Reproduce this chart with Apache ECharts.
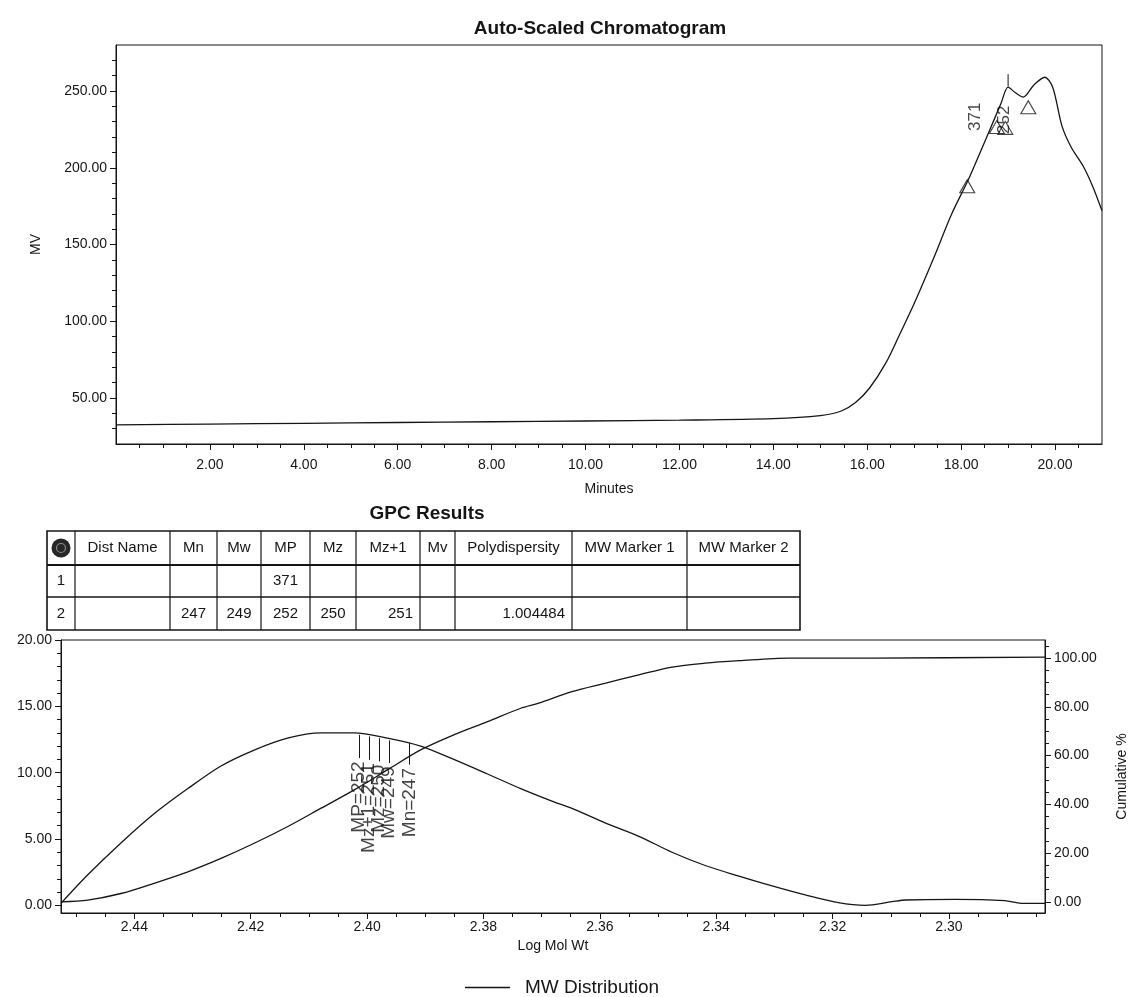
<!DOCTYPE html>
<html><head><meta charset="utf-8">
<script src="https://cdn.jsdelivr.net/npm/echarts@6/dist/echarts.min.js"></script>
<style>html,body{margin:0;padding:0;background:#fff}#c{width:1137px;height:997px}</style>
</head><body><div id="c"></div>
<script>
// ---------------- DATA ----------------
// Auto-scaled chromatogram (retention time in minutes, detector mV)
const chromMinutes = [0, 2, 4, 6, 8, 10, 12, 14, 15, 15.45, 15.75, 16.05, 16.4, 16.7, 17.0, 17.4, 17.8, 18.15, 18.35, 18.6, 18.85, 19.0, 19.15, 19.32, 19.55, 19.78, 19.95, 20.15, 20.35, 20.6, 20.8, 21.0];
const chromMV      = [32.5, 33, 33.5, 34, 34.5, 35, 35.5, 36.5, 38.5, 41.5, 47, 56.5, 73, 92, 111.5, 140, 170, 192, 206, 224, 242, 252.5, 249, 246, 254, 259, 252.5, 227, 213, 201, 188, 172];
// peak / slice markers (open triangles) on the chromatogram
const markMinutes = [18.13, 18.76, 18.94, 19.43];
const markMV      = [188, 226.5, 226, 239.5];
// peak labels (MP values) drawn vertically
const peakLabelText    = ['371', '252'];
const peakLabelMinutes = [18.30, 18.91];
const peakLabelMV      = [224, 222];
// peak apex tick
const apexTickMinutes = [19.0, 19.0];
const apexTickMV      = [253, 261];

// Axis tick labels
const topXTicks = [2, 4, 6, 8, 10, 12, 14, 16, 18, 20];
const topYTicks = [50, 100, 150, 200, 250];
const logMTicks = [2.30, 2.32, 2.34, 2.36, 2.38, 2.40, 2.42, 2.44];
const distTicks = [0, 5, 10, 15, 20];
const cumTicks  = [0, 20, 40, 60, 80, 100];

// GPC results table
const tableHeaders = ['', 'Dist Name', 'Mn', 'Mw', 'MP', 'Mz', 'Mz+1', 'Mv', 'Polydispersity', 'MW Marker 1', 'MW Marker 2'];
const gpcRow1 = ['1', '', '', '', '371', '', '', '', '', '', ''];
const gpcRow2 = ['2', '', '247', '249', '252', '250', '251', '', '1.004484', '', ''];

// MW distribution (log MW vs dw/dlogM)
const distLogMW = [2.4526, 2.4480, 2.4423, 2.4366, 2.4308, 2.4251, 2.4194, 2.4137, 2.4079, 2.4022, 2.3965, 2.3908, 2.3851, 2.3793, 2.3736, 2.3679, 2.3648, 2.3590, 2.3533, 2.3476, 2.3419, 2.3361, 2.3304, 2.3247, 2.3190, 2.3144, 2.3098, 2.3075, 2.2989, 2.2904, 2.2876, 2.2835];
const distValue = [0.15, 2.3, 4.7, 6.9, 8.8, 10.5, 11.7, 12.6, 13.0, 13.0, 12.6, 12.0, 11.0, 9.9, 8.8, 7.8, 7.3, 6.2, 5.2, 4.0, 3.0, 2.2, 1.46, 0.78, 0.2, 0.0, 0.27, 0.4, 0.45, 0.35, 0.15, 0.15];
// Cumulative %
const cumLogMW = [2.4526, 2.4480, 2.4423, 2.4366, 2.4308, 2.4251, 2.4194, 2.4137, 2.4079, 2.4022, 2.3965, 2.3908, 2.3851, 2.3793, 2.3736, 2.3705, 2.3648, 2.3590, 2.3533, 2.3476, 2.3419, 2.3361, 2.3276, 2.3133, 2.2835];
const cumValue = [0, 0.7, 3.4, 7.6, 12.3, 17.8, 24.0, 30.8, 38.4, 45.9, 54.1, 62.3, 68.5, 73.9, 79.4, 81.5, 86.2, 89.7, 93.1, 96.3, 97.9, 98.9, 100, 100, 100.4];
// MW markers
const markerNames = ['MP', 'Mz+1', 'Mz', 'Mw', 'Mn'];
const markerMW    = [252, 251, 250, 249, 247];
const markerTop    = [12.85, 12.73, 12.6, 12.43, 12.24];   // where the hatch meets the curve
const markerBottom = [11.1, 10.97, 10.85, 10.72, 10.6];

// ---------------- STYLE / LAYOUT ----------------
const INK = '#151515';
const FONT = '"Liberation Sans", Arial, sans-serif';
const fmt2 = v => Number(v).toFixed(2);
function minorVals(a, b, step, skip) {
  const out = [];
  for (let i = 0; ; i++) {
    const v = +(a + i * step).toFixed(6);
    if (v > b + 1e-9) break;
    if (skip && Math.abs(v / skip - Math.round(v / skip)) < 1e-6) continue;
    out.push(v);
  }
  return out;
}
const labelStyle = { color: INK, fontSize: 14, fontFamily: FONT };
const nameStyle = { color: INK, fontSize: 14, fontFamily: FONT };
function mainAxis(extra) {
  return Object.assign({
    type: 'value', splitLine: { show: false },
    axisLine: { show: true, onZero: false, lineStyle: { color: INK, width: 1 } },
    nameTextStyle: nameStyle
  }, extra);
}
function minorAxis(extra, values, len) {
  return Object.assign({
    type: 'value', splitLine: { show: false },
    axisLine: { show: false, onZero: false },
    axisLabel: { show: false },
    axisTick: { show: true, length: len || 3, customValues: values, lineStyle: { color: INK } }
  }, extra);
}
function majorTick(vals) { return { show: true, length: 6, customValues: vals, lineStyle: { color: INK } }; }
function majorLabel(vals, margin) { return Object.assign({ formatter: fmt2, customValues: vals, margin: margin }, labelStyle); }

// ---------------- TABLE + TITLES (graphic) ----------------
const colEdges = [47, 75, 170, 217, 261, 310, 356, 420, 455, 572, 687, 800];
const rowEdges = [531, 565, 597, 630];
const graphics = [];
const txt = (x, y, t, font, align) => ({ type: 'text', x: x, y: y, silent: true,
  style: { text: t, font: font, fill: INK, textAlign: align || 'center', textVerticalAlign: 'middle', verticalAlign: 'middle' } });
graphics.push(txt(600, 29, 'Auto-Scaled Chromatogram', 'bold 19px ' + FONT));
graphics.push(txt(427, 514, 'GPC Results', 'bold 19px ' + FONT));
graphics.push({ type: 'rect', silent: true, shape: { x: colEdges[0], y: rowEdges[0], width: colEdges[colEdges.length - 1] - colEdges[0], height: rowEdges[rowEdges.length - 1] - rowEdges[0] }, style: { fill: 'none', stroke: INK, lineWidth: 1.6 } });
colEdges.slice(1, -1).forEach(x => graphics.push({ type: 'line', silent: true, shape: { x1: x, y1: rowEdges[0], x2: x, y2: rowEdges[3] }, style: { stroke: INK, lineWidth: 1.2 } }));
rowEdges.slice(1, -1).forEach((y, i) => graphics.push({ type: 'line', silent: true, shape: { x1: colEdges[0], y1: y, x2: colEdges[colEdges.length - 1], y2: y }, style: { stroke: INK, lineWidth: i === 0 ? 2.2 : 1.6 } }));
graphics.push({ type: 'circle', silent: true, shape: { cx: 61, cy: 548, r: 9.5 }, style: { fill: '#262626' } });
graphics.push({ type: 'circle', silent: true, shape: { cx: 61, cy: 548, r: 4.5 }, style: { fill: 'none', stroke: '#8a8a8a', lineWidth: 1.2 } });
function cellText(rowIdx, values) {
  values.forEach((t, c) => {
    if (!t) return;
    const x0 = colEdges[c], x1 = colEdges[c + 1], w = x1 - x0;
    const right = rowIdx > 0 && c > 1 && w > 60;
    graphics.push(txt(right ? x1 - 7 : (x0 + x1) / 2, (rowEdges[rowIdx] + rowEdges[rowIdx + 1]) / 2, t, '15px ' + FONT, right ? 'right' : 'center'));
  });
}
cellText(0, tableHeaders);
cellText(1, gpcRow1);
cellText(2, gpcRow2);

// ---------------- CHART ----------------
const chart = echarts.init(document.getElementById('c'));
const option = {
  animation: false,
  backgroundColor: '#fff',
  grid: [
    { left: 116, top: 45, width: 986, height: 399, show: true, borderColor: INK, borderWidth: 1, backgroundColor: 'transparent' },
    { left: 61, top: 640, width: 986, height: 273, show: true, borderColor: INK, borderWidth: 1, backgroundColor: 'transparent' }
  ],
  legend: {
    data: [{ name: 'MW Distribution', icon: 'rect' }],
    left: 460, top: 973, itemWidth: 45, itemHeight: 1.5,
    textStyle: { color: INK, fontSize: 19, fontFamily: FONT, padding: [0, 0, 0, 10] }
  },
  xAxis: [
    mainAxis({ gridIndex: 0, position: 'bottom', min: 0, max: 21, axisTick: majorTick(topXTicks), axisLabel: majorLabel(topXTicks, 14),
      name: 'Minutes', nameLocation: 'middle', nameGap: 38 }),
    minorAxis({ gridIndex: 0, position: 'bottom', min: 0, max: 21 }, minorVals(0.5, 20.5, 0.5, 2), 4),
    mainAxis({ gridIndex: 1, position: 'bottom', inverse: true, min: 2.2835, max: 2.4526, axisTick: majorTick(logMTicks), axisLabel: majorLabel(logMTicks, 7),
      name: 'Log Mol Wt', nameLocation: 'middle', nameGap: 26 }),
    minorAxis({ gridIndex: 1, position: 'bottom', inverse: true, min: 2.2835, max: 2.4526 }, minorVals(2.285, 2.450, 0.005, 0.02), 4)
  ],
  yAxis: [
    mainAxis({ gridIndex: 0, position: 'left', min: 20, max: 280, axisTick: majorTick(topYTicks), axisLabel: majorLabel(topYTicks, 9),
      name: 'MV', nameLocation: 'middle', nameGap: 73 }),
    minorAxis({ gridIndex: 0, position: 'left', min: 20, max: 280 }, minorVals(30, 270, 10, 50), 4),
    mainAxis({ gridIndex: 1, position: 'left', min: -0.58, max: 20, axisTick: majorTick(distTicks), axisLabel: majorLabel(distTicks, 9) }),
    minorAxis({ gridIndex: 1, position: 'left', min: -0.58, max: 20 }, minorVals(1, 19, 1, 5), 4),
    mainAxis({ gridIndex: 1, position: 'right', min: -4.6, max: 107.4, axisTick: majorTick(cumTicks), axisLabel: majorLabel(cumTicks, 9),
      name: 'Cumulative %', nameLocation: 'middle', nameGap: 70 }),
    minorAxis({ gridIndex: 1, position: 'right', min: -4.6, max: 107.4 }, minorVals(5, 105, 5, 20), 4)
  ],
  series: [
    { name: 'Chromatogram', type: 'line', xAxisIndex: 0, yAxisIndex: 0, symbol: 'none', smooth: 0.3, silent: true,
      data: chromMinutes.map((m, i) => [m, chromMV[i]]), lineStyle: { color: INK, width: 1.3 } },
    { name: 'Markers', type: 'scatter', xAxisIndex: 0, yAxisIndex: 0, symbol: 'triangle', symbolSize: [15, 13], silent: true,
      data: markMinutes.map((m, i) => [m, markMV[i]]), itemStyle: { color: 'rgba(255,255,255,0)', borderColor: INK, borderWidth: 1.1 } },
    { name: 'Apex', type: 'line', xAxisIndex: 0, yAxisIndex: 0, symbol: 'none', silent: true,
      data: apexTickMinutes.map((m, i) => [m, apexTickMV[i]]), lineStyle: { color: INK, width: 1 } },
    { name: 'PeakLabels', type: 'scatter', xAxisIndex: 0, yAxisIndex: 0, symbolSize: 0, silent: true,
      data: peakLabelMinutes.map((m, i) => ({ value: [m, peakLabelMV[i]], name: peakLabelText[i] })),
      label: { show: true, position: 'inside', rotate: 90, align: 'left', verticalAlign: 'middle', formatter: p => p.name,
        color: INK, fontSize: 17, fontFamily: FONT } },
    { name: 'MW Distribution', type: 'line', xAxisIndex: 2, yAxisIndex: 2, symbol: 'none', smooth: 0.3, silent: true,
      data: distLogMW.map((m, i) => [m, distValue[i]]), lineStyle: { color: INK, width: 1.3 }, itemStyle: { color: INK },
      markLine: { silent: true, symbol: ['none', 'none'], label: { show: false }, lineStyle: { color: INK, width: 1, type: 'solid' },
        data: markerMW.map((mw, i) => [{ coord: [Math.log10(mw), markerTop[i]] }, { coord: [Math.log10(mw), markerBottom[i]] }]) } },
    { name: 'Cumulative', type: 'line', xAxisIndex: 2, yAxisIndex: 4, symbol: 'none', smooth: 0.3, silent: true,
      data: cumLogMW.map((m, i) => [m, cumValue[i]]), lineStyle: { color: INK, width: 1.3 } },
    { name: 'MarkerLabels', type: 'scatter', xAxisIndex: 2, yAxisIndex: 2, symbolSize: 0, silent: true,
      data: markerMW.map((mw, i) => ({ value: [Math.log10(mw), markerBottom[i] - 0.25], name: markerNames[i] + '=' + mw })),
      label: { show: true, position: 'inside', rotate: 90, align: 'right', verticalAlign: 'middle', formatter: p => p.name,
        color: INK, fontSize: 19, fontFamily: FONT } }
  ],
  graphic: graphics
};
chart.setOption(option);
</script>
</body></html>
